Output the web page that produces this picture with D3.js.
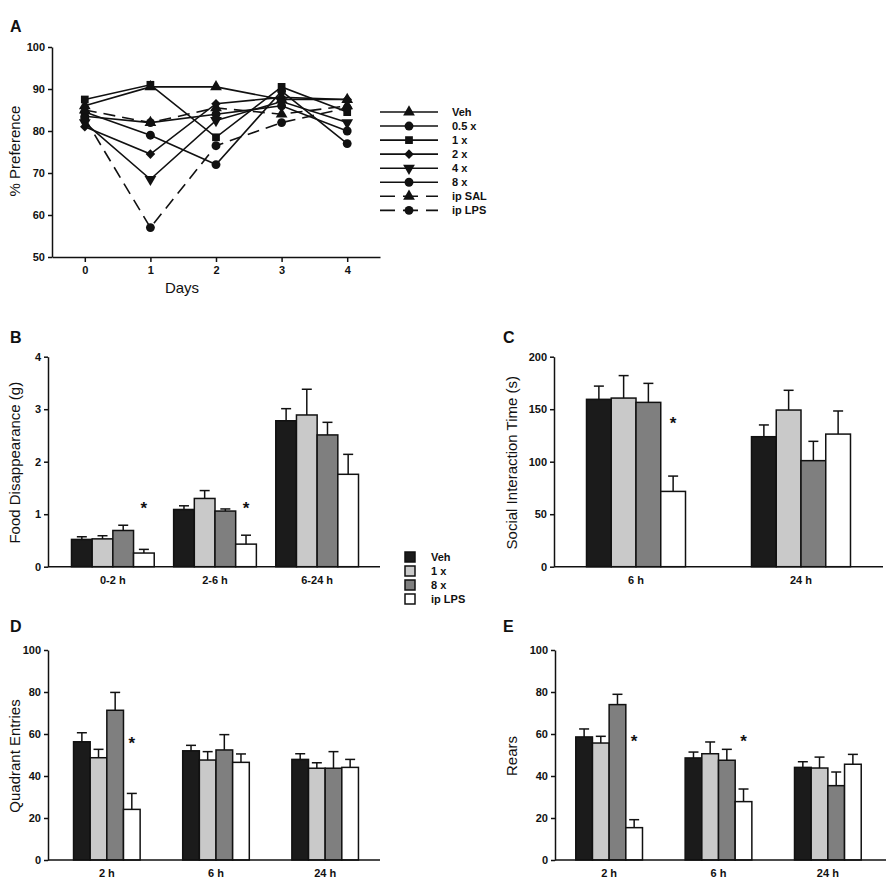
<!DOCTYPE html>
<html>
<head>
<meta charset="utf-8">
<script src="https://cdn.jsdelivr.net/npm/d3@7"></script>
<style>
  body { margin: 0; background: #fff; }
  text { font-family: "Liberation Sans", Arial, sans-serif; fill: #111; }
</style>
</head>
<body>
<svg id="fig" width="892" height="885"></svg>
<script>
// ---- panel A data: % preference by day
const days = [0, 1, 2, 3, 4];
const prefNames = ['Veh', '0.5 x', '1 x', '2 x', '4 x', '8 x', 'ip SAL', 'ip LPS'];
const prefVeh = [86, 90.5, 90.5, 87.5, 87.5];
const pref05x = [83.5, 82, 84, 86, 80];
const pref1x = [87.5, 91, 78.5, 90.5, 84.5];
const pref2x = [81, 74.5, 86.5, 88, 87.5];
const pref4x = [82, 68.5, 82.5, 87, 82];
const pref8x = [84.5, 79, 72, 89.5, 77];
const prefSal = [85, 82, 85.5, 84, 86];
const prefLps = [83, 57, 76.5, 82, 85.5];
const prefTicks = [50, 60, 70, 80, 90, 100];

// ---- bar panels
const barNames = ['Veh', '1 x', '8 x', 'ip LPS'];

const foodGroups = ['0-2 h', '2-6 h', '6-24 h'];
const foodMean = [[0.52, 1.09, 2.78], [0.53, 1.30, 2.89], [0.69, 1.06, 2.51], [0.26, 0.43, 1.76]];
const foodErr = [[0.05, 0.07, 0.23], [0.06, 0.15, 0.49], [0.10, 0.04, 0.24], [0.07, 0.17, 0.38]];
const foodStars = [1.17, 1.17, null];
const foodTicks = [0, 1, 2, 3, 4];

const socialGroups = ['6 h', '24 h'];
const socialMean = [[159.4, 123.8], [160.6, 149.2], [156.5, 101], [71.7, 126.3]];
const socialErr = [[12.6, 11.2], [21.4, 18.8], [18.1, 18.4], [14.6, 22]];
const socialStars = [139.7, null];
const socialTicks = [0, 50, 100, 150, 200];

const quadGroups = ['2 h', '6 h', '24 h'];
const quadMean = [[56.3, 52, 47.9], [48.7, 47.6, 43.7], [71.3, 52.4, 43.7], [24.1, 46.5, 44.1]];
const quadErr = [[4.3, 2.6, 2.7], [4, 4, 2.6], [8.5, 7.3, 7.9], [7.6, 4, 3.8]];
const quadStars = [57.1, null, null];
const quadTicks = [0, 20, 40, 60, 80, 100];

const rearGroups = ['2 h', '6 h', '24 h'];
const rearMean = [[58.6, 48.6, 44.1], [55.7, 50.6, 43.8], [74, 47.5, 35.4], [15.4, 27.8, 45.6]];
const rearErr = [[3.8, 2.8, 2.7], [3.2, 5.6, 5.2], [4.9, 5.2, 6.5], [3.8, 6, 4.7]];
const rearStars = [57.9, 57.9, null];
const rearTicks = [0, 20, 40, 60, 80, 100];

const barFills = ['#1b1b1b', '#c9c9c9', '#7f7f7f', '#ffffff'];
const ink = '#111';
const fmt = d3.format('d');

const svg = d3.select('#fig');

// helper: bold panel letter
function panelLetter(x, y, t) {
  svg.append('text').attr('x', x).attr('y', y)
    .style('font-size', '16px').style('font-weight', 'bold').text(t);
}

// helper: rotated axis title
function yTitle(cx, cy, t) {
  svg.append('text')
    .attr('transform', `translate(${cx},${cy}) rotate(-90)`)
    .attr('text-anchor', 'middle').attr('dy', '0.35em')
    .style('font-size', '15px').text(t);
}

function styleAxis(g) {
  g.selectAll('path, line').attr('stroke', ink).attr('stroke-width', 1.5);
  g.selectAll('text').style('font-size', '11px').style('font-weight', 'bold')
    .style('font-family', '"Liberation Sans", Arial, sans-serif').attr('fill', ink);
}

// ---------------- panel A ----------------
const ax = { left: 52, right: 380, top: 47, bottom: 257 };
const xA = d3.scaleLinear().domain([-0.5, 4.5]).range([ax.left, ax.right]);
const yA = d3.scaleLinear().domain([50, 100]).range([ax.bottom, ax.top]);

const prefData = [prefVeh, pref05x, pref1x, pref2x, pref4x, pref8x, prefSal, prefLps];
const prefSymbols = [d3.symbolTriangle, d3.symbolCircle, d3.symbolSquare, d3.symbolSquare,
  d3.symbolTriangle, d3.symbolCircle, d3.symbolTriangle, d3.symbolCircle];
const prefRot = [0, 0, 0, 45, 180, 0, 0, 0];
const prefDash = [null, null, null, null, null, null, '12,7', '12,7'];
const symSize = [60, 62, 60, 46, 60, 62, 60, 62];

const gA = svg.append('g');
gA.append('g')
  .attr('transform', `translate(${ax.left},0)`)
  .call(d3.axisLeft(yA).tickValues(prefTicks).tickFormat(fmt).tickSize(4).tickPadding(3).tickSizeOuter(0))
  .call(styleAxis);
gA.append('g')
  .attr('transform', `translate(0,${ax.bottom})`)
  .call(d3.axisBottom(xA).tickValues(days).tickFormat(fmt).tickSize(5).tickPadding(4).tickSizeOuter(0))
  .call(styleAxis);

const line = d3.line().x((d, i) => xA(days[i])).y(d => yA(d));
prefData.forEach((vals, k) => {
  gA.append('path').datum(vals)
    .attr('d', line).attr('fill', 'none')
    .attr('stroke', ink).attr('stroke-width', 1.6)
    .attr('stroke-dasharray', prefDash[k]);
});
prefData.forEach((vals, k) => {
  gA.selectAll(null).data(vals).enter().append('path')
    .attr('d', d3.symbol().type(prefSymbols[k]).size(symSize[k]))
    .attr('transform', (d, i) => `translate(${xA(days[i])},${yA(d)}) rotate(${prefRot[k]})`)
    .attr('fill', ink);
});

yTitle(15, 151, '% Preference');
svg.append('text').attr('x', 182).attr('y', 293).attr('text-anchor', 'middle')
  .style('font-size', '15px').text('Days');

// legend A
const legA = svg.append('g');
prefNames.forEach((name, k) => {
  const y = 112 + k * 14.05;
  const row = legA.append('g');
  row.append('line').attr('x1', 380).attr('x2', 438).attr('y1', y).attr('y2', y)
    .attr('stroke', ink).attr('stroke-width', 1.6)
    .attr('stroke-dasharray', prefDash[k] ? '15,8' : null);
  row.append('path')
    .attr('d', d3.symbol().type(prefSymbols[k]).size(symSize[k]))
    .attr('transform', `translate(409,${y}) rotate(${prefRot[k]})`)
    .attr('fill', ink);
  row.append('text').attr('x', 452).attr('y', y + 4)
    .style('font-size', '11px').style('font-weight', 'bold').text(name);
});
panelLetter(10, 32, 'A');

// ---------------- bar panels ----------------
function barPanel(opt) {
  const y = d3.scaleLinear().domain(opt.domain).range([opt.bottom, opt.top]);
  const x0 = d3.scaleBand().domain(opt.groups).range(opt.band)
    .paddingInner(opt.padIn).paddingOuter(opt.padOut);
  const x1 = d3.scaleBand().domain(d3.range(barNames.length)).range([0, x0.bandwidth()]);
  const g = svg.append('g');

  // bars
  opt.mean.forEach((vals, s) => {
    g.selectAll(null).data(vals).enter().append('rect')
      .attr('x', (d, i) => x0(opt.groups[i]) + x1(s))
      .attr('y', d => y(d))
      .attr('width', x1.bandwidth())
      .attr('height', d => y(0) - y(d))
      .attr('fill', barFills[s])
      .attr('stroke', ink).attr('stroke-width', 1.5);
  });

  // upper error bars
  const cap = 5;
  opt.mean.forEach((vals, s) => {
    vals.forEach((d, i) => {
      const cx = x0(opt.groups[i]) + x1(s) + x1.bandwidth() / 2;
      const top = y(d + opt.err[s][i]);
      g.append('line').attr('x1', cx).attr('x2', cx).attr('y1', y(d)).attr('y2', top)
        .attr('stroke', ink).attr('stroke-width', 1.5);
      g.append('line').attr('x1', cx - cap).attr('x2', cx + cap).attr('y1', top).attr('y2', top)
        .attr('stroke', ink).attr('stroke-width', 1.5);
    });
  });

  // significance stars above the LPS bar
  opt.stars.forEach((v, i) => {
    if (v == null) return;
    const cx = x0(opt.groups[i]) + x1(3) + x1.bandwidth() / 2;
    g.append('text').attr('x', cx).attr('y', y(v) + 9).attr('text-anchor', 'middle')
      .style('font-size', '17px').style('font-weight', 'bold').text('*');
  });

  // axes
  g.append('g')
    .attr('transform', `translate(${opt.band[0]},0)`)
    .call(d3.axisLeft(y).tickValues(opt.ticks).tickFormat(fmt).tickSize(4).tickPadding(3).tickSizeOuter(0))
    .call(styleAxis);
  g.append('line')
    .attr('x1', opt.band[0]).attr('x2', opt.axisEnd)
    .attr('y1', opt.bottom).attr('y2', opt.bottom)
    .attr('stroke', ink).attr('stroke-width', 1.5);
  g.selectAll(null).data(opt.groups).enter().append('text')
    .attr('x', d => x0(d) + x0.bandwidth() / 2)
    .attr('y', opt.bottom + 17)
    .attr('text-anchor', 'middle')
    .style('font-size', '11px').style('font-weight', 'bold')
    .text(d => d);

  yTitle(opt.titleX, (opt.top + opt.bottom) / 2 + 1, opt.title);
}

barPanel({
  groups: foodGroups, mean: foodMean, err: foodErr, stars: foodStars, ticks: foodTicks,
  domain: [0, 4], top: 356.7, bottom: 566.7, band: [48, 382], axisEnd: 380,
  padIn: 0.19, padOut: 0.23, title: 'Food Disappearance (g)', titleX: 15
});
barPanel({
  groups: socialGroups, mean: socialMean, err: socialErr, stars: socialStars, ticks: socialTicks,
  domain: [0, 200], top: 356.7, bottom: 566.7, band: [554, 883], axisEnd: 883,
  padIn: 0.4, padOut: 0.197, title: 'Social Interaction Time (s)', titleX: 512
});
barPanel({
  groups: quadGroups, mean: quadMean, err: quadErr, stars: quadStars, ticks: quadTicks,
  domain: [0, 100], top: 650, bottom: 860, band: [48, 384], axisEnd: 380,
  padIn: 0.39, padOut: 0.234, title: 'Quadrant Entries', titleX: 15
});
barPanel({
  groups: rearGroups, mean: rearMean, err: rearErr, stars: rearStars, ticks: rearTicks,
  domain: [0, 100], top: 650, bottom: 860, band: [555, 882], axisEnd: 886,
  padIn: 0.39, padOut: 0.19, title: 'Rears', titleX: 512
});

// legend for bars
const legB = svg.append('g');
barNames.forEach((name, s) => {
  const y = 557 + s * 14;
  legB.append('rect').attr('x', 405).attr('y', y - 5).attr('width', 10).attr('height', 10)
    .attr('fill', barFills[s]).attr('stroke', ink).attr('stroke-width', 1.5);
  legB.append('text').attr('x', 431).attr('y', y + 4)
    .style('font-size', '11px').style('font-weight', 'bold').text(name);
});

panelLetter(10, 343, 'B');
panelLetter(503, 343, 'C');
panelLetter(10, 632, 'D');
panelLetter(503, 632, 'E');
</script>
</body>
</html>
